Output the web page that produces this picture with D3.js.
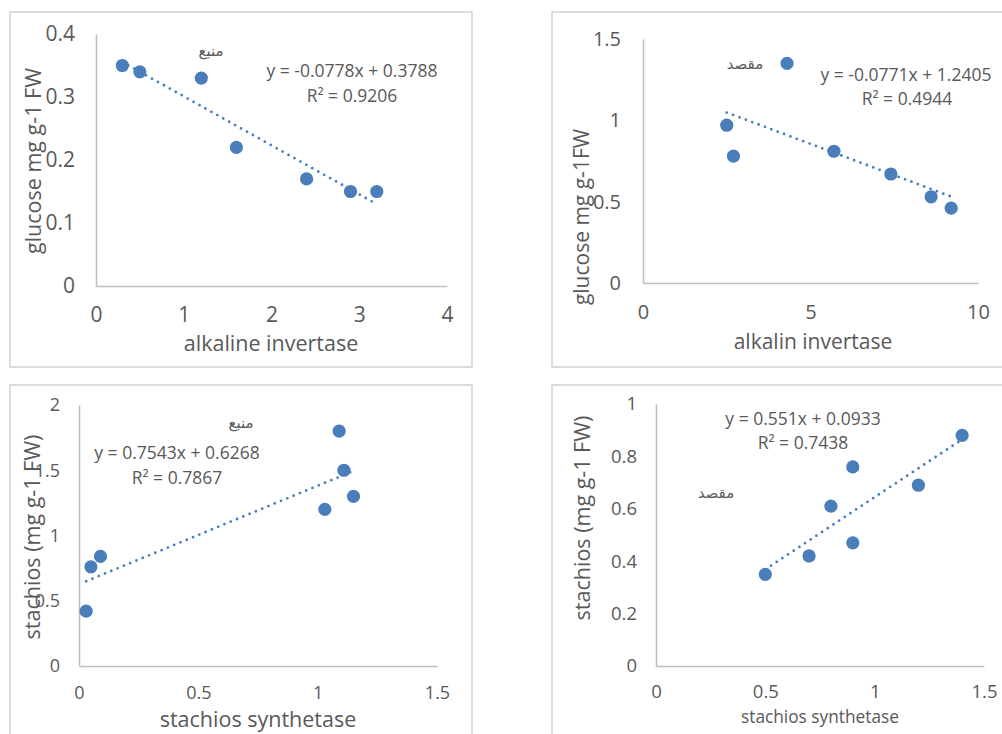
<!DOCTYPE html>
<html>
<head>
<meta charset="utf-8">
<script src="https://cdn.jsdelivr.net/npm/d3@7"></script>
<style>
  html, body { margin: 0; padding: 0; background: #fff; }
  svg { display: block; }
  text { font-family: "Open Sans", "Liberation Sans", sans-serif; fill: #595959; }
  .ar { font-family: "DejaVu Sans", "Noto Sans", sans-serif; fill: #595959; font-weight: normal; }
</style>
</head>
<body>
<svg id="chart" width="1002" height="734"></svg>
<script>
// Alkaline invertase vs glucose (source / sink)
const sourceInvertase = [0.3, 0.5, 1.2, 1.6, 2.4, 2.9, 3.2];
const sourceGlucose   = [0.35, 0.34, 0.33, 0.22, 0.17, 0.15, 0.15];
const sinkInvertase   = [2.5, 2.7, 4.3, 5.7, 7.4, 8.6, 9.2];
const sinkGlucose     = [0.97, 0.78, 1.35, 0.81, 0.67, 0.53, 0.46];

// Stachyose synthetase vs stachyose (source / sink)
const sourceSynthetase = [0.03, 0.05, 0.09, 1.03, 1.09, 1.11, 1.15];
const sourceStachyose  = [0.42, 0.76, 0.84, 1.2, 1.8, 1.5, 1.3];
const sinkSynthetase   = [0.5, 0.7, 0.8, 0.9, 0.9, 1.2, 1.4];
const sinkStachyose    = [0.35, 0.42, 0.61, 0.76, 0.47, 0.69, 0.88];

// Linear trend lines: slope, intercept, R²
const trendSlope     = [-0.0778, -0.0771, 0.7543, 0.551];
const trendIntercept = [0.3788, 1.2405, 0.6268, 0.0933];
const trendR2        = [0.9206, 0.4944, 0.7867, 0.7438];

// Tick values
const xTicks1 = [0, 1, 2, 3, 4];
const yTicks1 = [0, 0.1, 0.2, 0.3, 0.4];
const xTicks2 = [0, 5, 10];
const yTicks2 = [0, 0.5, 1, 1.5];
const xTicks3 = [0, 0.5, 1, 1.5];
const yTicks3 = [0, 0.5, 1, 1.5, 2];
const xTicks4 = [0, 0.5, 1, 1.5];
const yTicks4 = [0, 0.2, 0.4, 0.6, 0.8, 1];

// Labels
const xTitles = ["alkaline invertase", "alkalin invertase", "stachios synthetase", "stachios synthetase"];
const yTitles = ["glucose mg g-1 FW", "glucose mg g-1FW", "stachios (mg g-1 FW)", "stachios (mg g-1 FW)"];
const tissueLabels = ["منبع", "مقصد", "منبع", "مقصد"];

const svg = d3.select("#chart");
const pointColor = "#4a7ebb";
const axisColor = "#bfbfbf";

const panels = [
  { frame: [10, 12, 462, 355], plot: { l: 96, r: 447, t: 34, b: 286 },
    xs: sourceInvertase, ys: sourceGlucose, xDom: [0, 4], yDom: [0, 0.4],
    xt: xTicks1, yt: yTicks1, tickSize: 21, yPad: 21, xPad: 29,
    eq: [352, 71], r2: [352, 96], tag: [211, 51],
    xTitle: [271, 343, 21.5], yTitle: [33, 161, 21.5] },
  { frame: [552, 12, 470, 355], plot: { l: 643, r: 978, t: 39, b: 283 },
    xs: sinkInvertase, ys: sinkGlucose, xDom: [0, 10], yDom: [0, 1.5],
    xt: xTicks2, yt: yTicks2, tickSize: 20, yPad: 22, xPad: 29,
    eq: [906, 75], r2: [907, 99], tag: [745, 64],
    xTitle: [813, 342, 21], yTitle: [582, 217, 21] },
  { frame: [10, 385, 462, 380], plot: { l: 79, r: 437, t: 405, b: 666 },
    xs: sourceSynthetase, ys: sourceStachyose, xDom: [0, 1.5], yDom: [0, 2],
    xt: xTicks3, yt: yTicks3, tickSize: 18, yPad: 19, xPad: 27,
    eq: [177, 453], r2: [177, 478], tag: [241, 423],
    xTitle: [258, 719, 21.5], yTitle: [32, 537, 21.5] },
  { frame: [552, 385, 470, 380], plot: { l: 656, r: 984, t: 404, b: 666 },
    xs: sinkSynthetase, ys: sinkStachyose, xDom: [0, 1.5], yDom: [0, 1],
    xt: xTicks4, yt: yTicks4, tickSize: 18.5, yPad: 19, xPad: 26,
    eq: [803, 419], r2: [803, 443], tag: [716, 493],
    xTitle: [820, 717, 17.3], yTitle: [582, 518, 21.5] }
];

const fmtNum = v => String(v);
function equationText(m, b) {
  const sign = b < 0 ? "-" : "+";
  return "y = " + m + "x " + sign + " " + Math.abs(b);
}

panels.forEach((p, i) => {
  const g = svg.append("g");

  // chart area border
  g.append("rect")
    .attr("x", p.frame[0]).attr("y", p.frame[1])
    .attr("width", p.frame[2]).attr("height", p.frame[3])
    .attr("fill", "none").attr("stroke", "#d9d9d9").attr("stroke-width", 1.8);

  const x = d3.scaleLinear().domain(p.xDom).range([p.plot.l, p.plot.r]);
  const y = d3.scaleLinear().domain(p.yDom).range([p.plot.b, p.plot.t]);

  // axes
  const xAxis = g.append("g")
    .attr("transform", `translate(0,${p.plot.b})`)
    .call(d3.axisBottom(x).tickValues(p.xt).tickFormat(fmtNum)
      .tickSize(0).tickSizeOuter(0));
  const yAxis = g.append("g")
    .attr("transform", `translate(${p.plot.l},0)`)
    .call(d3.axisLeft(y).tickValues(p.yt).tickFormat(fmtNum)
      .tickSize(0).tickSizeOuter(0).tickPadding(p.yPad));
  [xAxis, yAxis].forEach(a => {
    a.select(".domain").attr("stroke", axisColor).attr("stroke-width", 1.6);
    a.selectAll("text")
      .attr("font-size", p.tickSize)
      .attr("font-family", "'Open Sans', sans-serif")
      .attr("fill", "#595959");
  });
  xAxis.selectAll("text").attr("dy", "0.35em").attr("y", p.xPad);

  // trend line across the data range
  const [x0, x1] = d3.extent(p.xs);
  const m = trendSlope[i], b = trendIntercept[i];
  g.append("path")
    .attr("d", d3.line()([[x(x0), y(m * x0 + b)], [x(x1), y(m * x1 + b)]]))
    .attr("stroke", pointColor).attr("stroke-width", 2.8)
    .attr("stroke-linecap", "round").attr("stroke-dasharray", "0 6.8")
    .attr("fill", "none");

  // points
  g.selectAll("circle.pt")
    .data(p.xs.map((v, k) => [v, p.ys[k]]))
    .join("circle")
    .attr("class", "pt")
    .attr("cx", d => x(d[0])).attr("cy", d => y(d[1]))
    .attr("r", 6.6).attr("fill", pointColor);

  // equation and R²
  g.append("text")
    .attr("x", p.eq[0]).attr("y", p.eq[1]).attr("dy", "0.35em")
    .attr("text-anchor", "middle").attr("font-size", 17.5)
    .text(equationText(m, b));
  g.append("text")
    .attr("x", p.r2[0]).attr("y", p.r2[1]).attr("dy", "0.35em")
    .attr("text-anchor", "middle").attr("font-size", 17.5)
    .text("R² = " + trendR2[i]);

  // tissue label
  g.append("text").attr("class", "ar")
    .attr("x", p.tag[0]).attr("y", p.tag[1]).attr("dy", "0.35em")
    .attr("text-anchor", "middle").attr("font-size", 15)
    .text(tissueLabels[i]);

  // axis titles
  g.append("text")
    .attr("x", p.xTitle[0]).attr("y", p.xTitle[1]).attr("dy", "0.35em")
    .attr("text-anchor", "middle").attr("font-size", p.xTitle[2])
    .text(xTitles[i]);
  g.append("text")
    .attr("transform", `translate(${p.yTitle[0]},${p.yTitle[1]}) rotate(-90)`)
    .attr("dy", "0.35em")
    .attr("text-anchor", "middle").attr("font-size", p.yTitle[2])
    .text(yTitles[i]);
});
</script>
</body>
</html>
